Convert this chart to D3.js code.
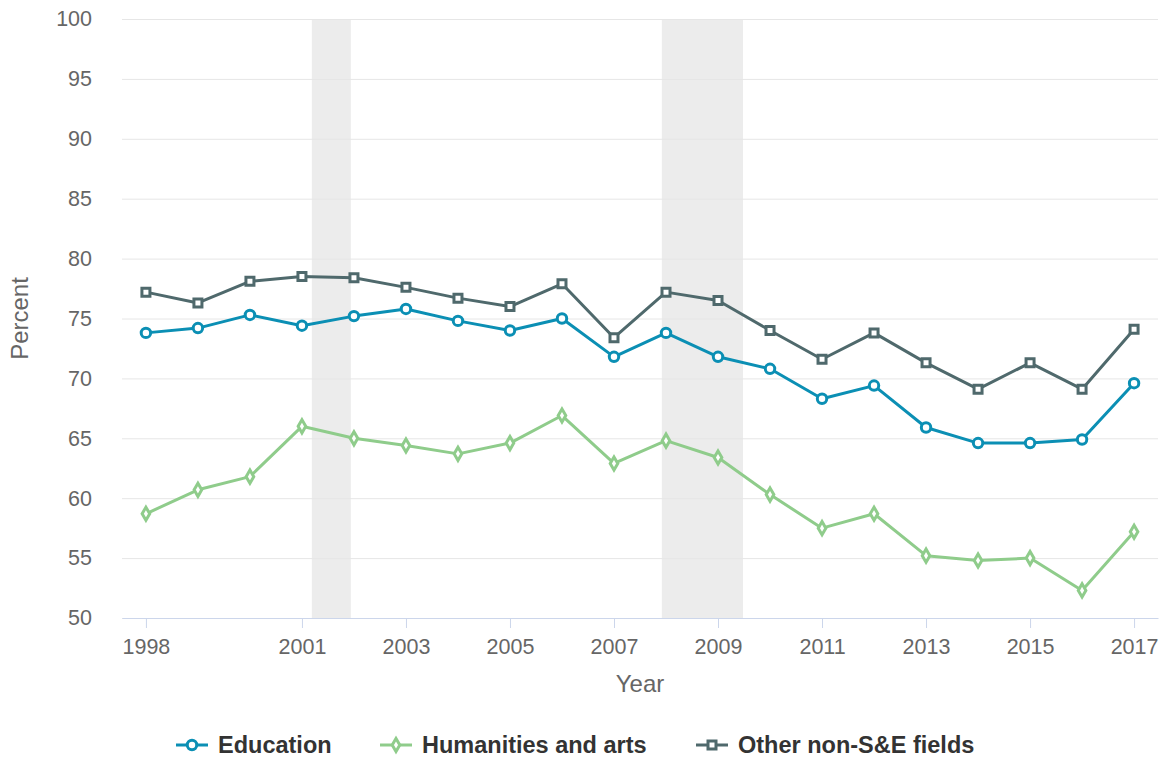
<!DOCTYPE html>
<html>
<head>
<meta charset="utf-8">
<script src="https://cdn.jsdelivr.net/npm/d3@7"></script>
<style>
  body { margin: 0; background: #fff; }
  svg text { font-family: "Liberation Sans", Arial, sans-serif; }
  .grid line { stroke: #e6e6e6; stroke-width: 1; }
  .tick text { fill: #666; font-size: 21.5px; }
</style>
</head>
<body>
<svg id="chart" width="1160" height="758"></svg>
<script>
var years = d3.range(1998, 2018);
var education = [73.8, 74.2, 75.3, 74.4, 75.2, 75.8, 74.8, 74.0, 75.0, 71.8,
                 73.8, 71.8, 70.8, 68.3, 69.4, 65.9, 64.6, 64.6, 64.9, 69.6];
var humanities = [58.7, 60.7, 61.8, 66.0, 65.0, 64.4, 63.7, 64.6, 66.9, 62.9,
                  64.8, 63.4, 60.3, 57.5, 58.7, 55.2, 54.8, 55.0, 52.3, 57.2];
var otherFields = [77.2, 76.3, 78.1, 78.5, 78.4, 77.6, 76.7, 76.0, 77.9, 73.4,
                   77.2, 76.5, 74.0, 71.6, 73.8, 71.3, 69.1, 71.3, 69.1, 74.1];
var xTicks = [1998, 2001, 2003, 2005, 2007, 2009, 2011, 2013, 2015, 2017];
var yTicks = d3.range(50, 101, 5);
var recessions = [[2001.19, 2001.94], [2007.92, 2009.48]];

var series = [
  { name: "Education", values: education, color: "#0b8fb4", symbol: d3.symbolCircle, size: 70 },
  { name: "Humanities and arts", values: humanities, color: "#8fcc8b", symbol: d3.symbolDiamond, size: 50 },
  { name: "Other non-S&E fields", values: otherFields, color: "#4f696c", symbol: d3.symbolSquare, size: 64 }
];

var margin = { top: 19, right: 2, bottom: 140, left: 122 };
var width = 1160 - margin.left - margin.right,
    height = 618 - margin.top;

var svg = d3.select("#chart");
var g = svg.append("g").attr("transform", "translate(" + margin.left + "," + margin.top + ")");

var x = d3.scaleLinear().domain([1997.54, 2017.46]).range([0, width]);
var y = d3.scaleLinear().domain([50, 100]).range([height, 0]);

// recession bands
g.selectAll(".band")
  .data(recessions)
  .enter().append("rect")
  .attr("x", function (d) { return x(d[0]); })
  .attr("width", function (d) { return x(d[1]) - x(d[0]); })
  .attr("y", 0)
  .attr("height", height)
  .attr("fill", "#ececec");

// grid
var yAxis = g.append("g")
  .attr("class", "grid")
  .call(d3.axisLeft(y).tickValues(yTicks).tickSize(-width));
yAxis.select(".domain").remove();
yAxis.selectAll(".tick text").attr("x", -30);

// x axis
var xAxis = g.append("g")
  .attr("transform", "translate(0," + height + ")")
  .call(d3.axisBottom(x).tickValues(xTicks).tickFormat(d3.format("d")).tickSize(10).tickPadding(11).tickSizeOuter(0));
xAxis.attr("font-family", null);
yAxis.attr("font-family", null);
xAxis.select(".domain").attr("stroke", "#ccd6eb");
xAxis.selectAll(".tick line").attr("stroke", "#ccd6eb");

// axis titles
svg.append("text")
  .attr("x", margin.left + width / 2)
  .attr("y", 692)
  .attr("text-anchor", "middle")
  .attr("fill", "#666")
  .style("font-size", "24px")
  .text("Year");

svg.append("text")
  .attr("transform", "translate(28," + (margin.top + height / 2) + ") rotate(-90)")
  .attr("text-anchor", "middle")
  .attr("fill", "#666")
  .style("font-size", "24px")
  .text("Percent");

// lines
var line = d3.line()
  .x(function (d, i) { return x(years[i]); })
  .y(function (d) { return y(d); });

series.forEach(function (s) {
  g.append("path")
    .datum(s.values)
    .attr("fill", "none")
    .attr("stroke", s.color)
    .attr("stroke-width", 3)
    .attr("stroke-linejoin", "round")
    .attr("d", line);

  g.selectAll(null)
    .data(s.values)
    .enter().append("path")
    .attr("transform", function (d, i) { return "translate(" + x(years[i]) + "," + y(d) + ")"; })
    .attr("d", d3.symbol().type(s.symbol).size(s.size))
    .attr("fill", "#fff")
    .attr("stroke", s.color)
    .attr("stroke-width", 3);
});

// legend
var legendX = [176, 380, 696];
var legend = svg.append("g").attr("transform", "translate(0,745)");
series.forEach(function (s, i) {
  var item = legend.append("g").attr("transform", "translate(" + legendX[i] + ",0)");
  item.append("line")
    .attr("x1", 0).attr("x2", 32)
    .attr("stroke", s.color)
    .attr("stroke-width", 3);
  item.append("path")
    .attr("transform", "translate(16,0)")
    .attr("d", d3.symbol().type(s.symbol).size(s.size))
    .attr("fill", "#fff")
    .attr("stroke", s.color)
    .attr("stroke-width", 3);
  item.append("text")
    .attr("x", 42)
    .attr("y", 8)
    .attr("fill", "#333")
    .style("font-size", "23.5px")
    .style("font-weight", "bold")
    .text(s.name);
});
</script>
</body>
</html>
